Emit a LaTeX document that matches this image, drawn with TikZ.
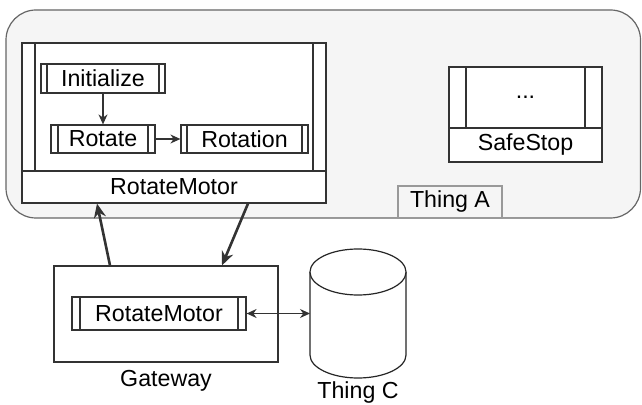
\documentclass[tikz,border=0pt]{standalone}
\usepackage{fontspec}
\setmainfont{Liberation Sans}
\usepackage{tikz}
\usetikzlibrary{arrows.meta}
\definecolor{ink}{HTML}{333333}
\definecolor{thingfill}{HTML}{F5F5F5}
\definecolor{thingline}{HTML}{666666}
\definecolor{tagline}{HTML}{999999}

\begin{document}
\begin{tikzpicture}[x=0.5pt,y=-0.5pt,
  font=\fontsize{11.6}{13}\selectfont,
  box/.style={draw=ink,line width=0.6pt,fill=white,rectangle,inner sep=0pt},
  proc/.style={box,path picture={
    \draw[ink,line width=0.6pt]
      ([xshift=#1]path picture bounding box.north west) -- ([xshift=#1]path picture bounding box.south west)
      ([xshift=-#1]path picture bounding box.north east) -- ([xshift=-#1]path picture bounding box.south east);}},
  cyl/.style={draw=black!85,fill=white,line width=0.6pt},
  cylcap/.style={x radius=24pt,y radius=11.5pt},
  thick arrow/.style={-{Stealth[length=7pt,width=6pt]},draw=ink,line width=1.3pt},
  thin arrow/.style={-{Stealth[length=5pt,width=4.5pt]},draw=ink,line width=0.6pt}]

\useasboundingbox (0,0) rectangle (642,405);

% Thing A container
\node (thingA) at (323.25,114)[draw=thingline,fill=thingfill,line width=0.6pt,rounded corners=15pt,minimum width=317.25pt,minimum height=104pt] {};
\node (thingAtag) at (450,202)[draw=tagline,fill=thingfill,line width=0.6pt,minimum width=52pt,minimum height=16pt,inner sep=0pt] {Thing A};

% RotateMotor process with its steps
\node (rmBody) at (174,107)[proc=6.5pt,minimum width=152pt,minimum height=64pt] {};
\node (rmTitle) at (174,187)[box,minimum width=152pt,minimum height=16pt] {RotateMotor};
\node (init) at (103,78.5)[proc=3pt,minimum width=62pt,minimum height=14.5pt] {Initialize};
\node (rotate) at (103,139)[proc=3.5pt,minimum width=52pt,minimum height=14pt] {Rotate};
\node (rotation) at (244.5,139)[proc=3pt,minimum width=63.5pt,minimum height=14pt] {Rotation};
\draw [thin arrow] (init) to (rotate);
\draw [thin arrow] (rotate) to (rotation);

% SafeStop process
\node (ssBody) at (525.5,97.5)[proc=8.5pt,minimum width=76.5pt,minimum height=30.5pt] {...};
\node (ssTitle) at (525.5,145)[box,minimum width=76.5pt,minimum height=17pt] {SafeStop};

% Gateway
\node (gateway) at (166,314)[box,minimum width=112pt,minimum height=48pt] {};
\node (gwLabel) at (166,381) {Gateway};
\node (gwMotor) at (159,313.5)[proc=4pt,minimum width=87pt,minimum height=16.5pt] {RotateMotor};

% Thing C storage (cylinder drawn round an empty node)
\node (thingC) at (358,313.5)[minimum width=48pt,minimum height=64.5pt,inner sep=0pt,outer sep=0pt] {};
\filldraw [cyl] ([yshift=-11.5pt]thingC.north west) arc[start angle=180,end angle=0,cylcap]
  -- ([yshift=11.5pt]thingC.south east) arc[start angle=0,end angle=-180,cylcap] -- cycle;
\draw [cyl] ([yshift=-11.5pt]thingC.north west) arc[start angle=180,end angle=360,cylcap];
\node (thingClabel) at (358,393) {Thing C};

\draw [thick arrow] ([xshift=-28pt]gateway.north) to ([xshift=-38.5pt]rmTitle.south);
\draw [thick arrow] ([xshift=37pt]rmTitle.south) to ([xshift=28pt]gateway.north);
\draw [thin arrow,{Stealth[length=5pt,width=4.5pt]}-{Stealth[length=5pt,width=4.5pt]}] (gwMotor) to (thingC);
\end{tikzpicture}
\end{document}
